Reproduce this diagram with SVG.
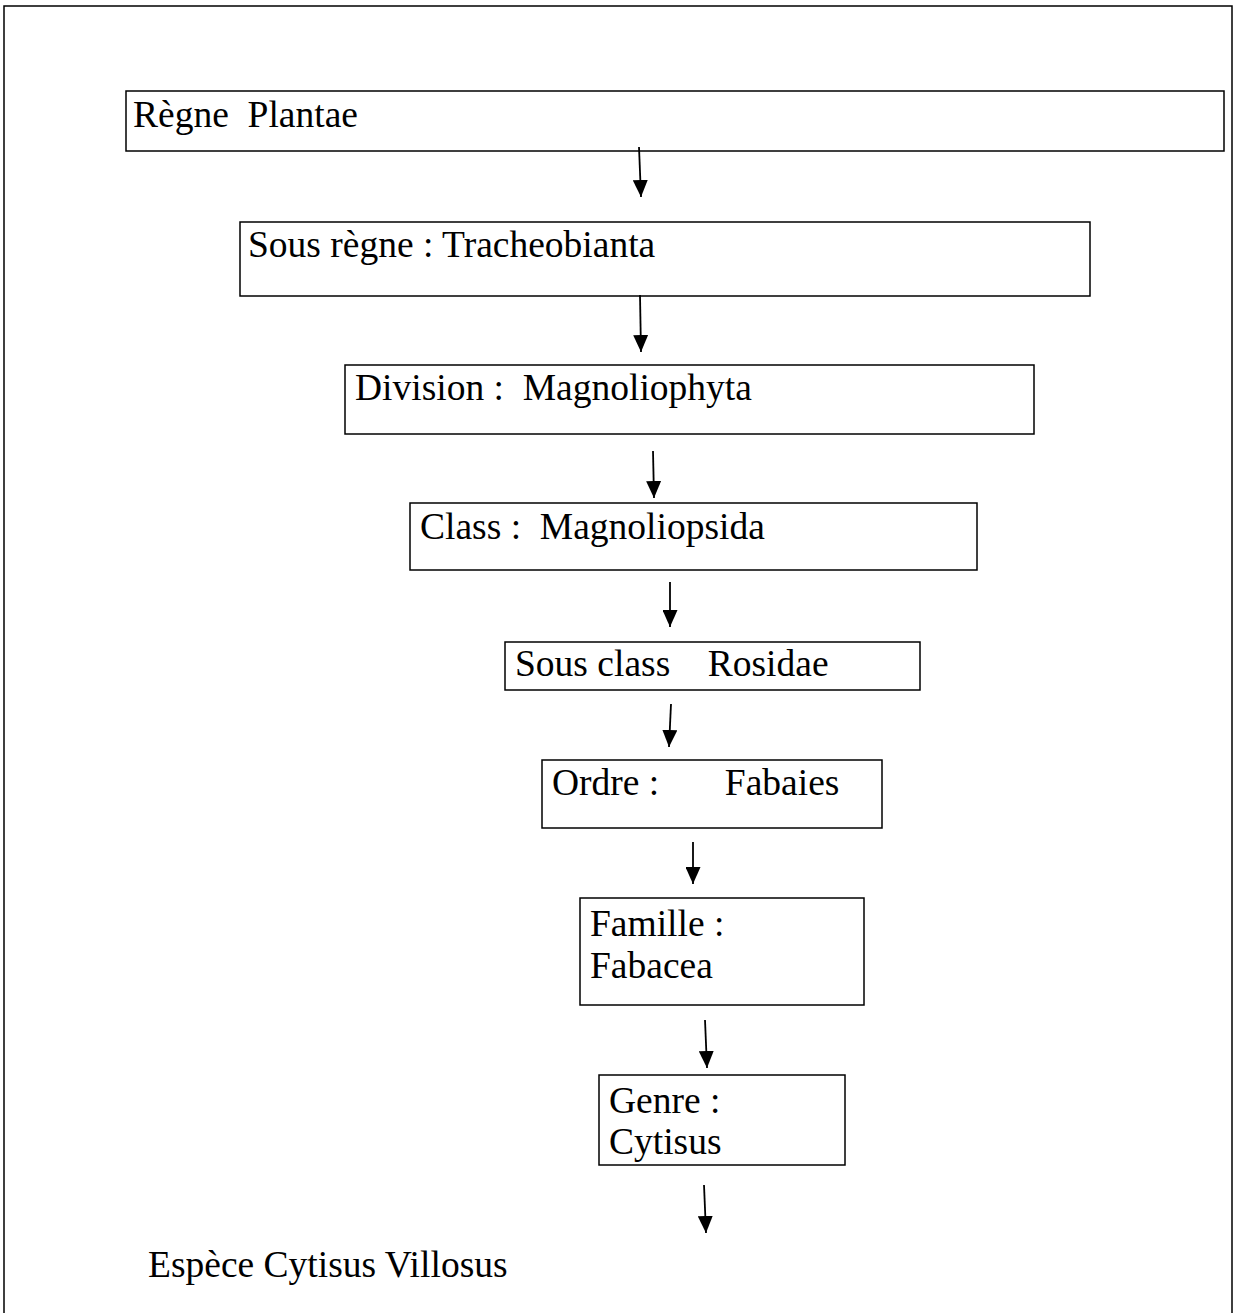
<svg xmlns="http://www.w3.org/2000/svg" width="1234" height="1313" viewBox="0 0 1234 1313">
<defs>
<style>
.box{fill:#fff;stroke:#000;stroke-width:1.5}
.lbl{font-family:"Liberation Serif","Times New Roman",serif;font-size:37.5px;fill:#000;white-space:pre}
.arr{stroke:#000;stroke-width:1.8;fill:none;marker-end:url(#ah)}
</style>
<marker id="ah" markerUnits="userSpaceOnUse" viewBox="0 0 17 15" refX="17" refY="7.5" markerWidth="17" markerHeight="15" orient="auto">
<path d="M0,0 L17,7.5 L0,15 Z" fill="#000"/>
</marker>
</defs>
<rect width="1234" height="1313" fill="#fff"/>
<path d="M4,1313 V6 H1232 V1313" fill="none" stroke="#000" stroke-width="1.5"/>
<g id="n1"><rect class="box" x="126" y="91" width="1098" height="60"/><text class="lbl" x="133" y="127" xml:space="preserve">Règne  Plantae</text></g>
<g id="n2"><rect class="box" x="240" y="222" width="850" height="74"/><text class="lbl" x="248" y="257">Sous règne : Tracheobianta</text></g>
<g id="n3"><rect class="box" x="345" y="365" width="689" height="69"/><text class="lbl" x="355" y="400" xml:space="preserve">Division :  Magnoliophyta</text></g>
<g id="n4"><rect class="box" x="410" y="503" width="567" height="67"/><text class="lbl" x="420" y="539" xml:space="preserve">Class :  Magnoliopsida</text></g>
<g id="n5"><rect class="box" x="505" y="642" width="415" height="48"/><text class="lbl" x="515" y="676" xml:space="preserve">Sous class    Rosidae</text></g>
<g id="n6"><rect class="box" x="542" y="760" width="340" height="68"/><text class="lbl" x="552" y="795" xml:space="preserve">Ordre :       Fabaies</text></g>
<g id="n7"><rect class="box" x="580" y="898" width="284" height="107"/><text class="lbl" x="590" y="936">Famille :</text><text class="lbl" x="590" y="978">Fabacea</text></g>
<g id="n8"><rect class="box" x="599" y="1075" width="246" height="90"/><text class="lbl" x="609" y="1113">Genre :</text><text class="lbl" x="609" y="1154">Cytisus</text></g>
<g id="n9"><text class="lbl" x="148" y="1277">Espèce Cytisus Villosus</text></g>
<g id="connectors">
<line class="arr" x1="639" y1="147" x2="641" y2="197"/>
<line class="arr" x1="640" y1="295" x2="641" y2="352"/>
<line class="arr" x1="653" y1="451" x2="654" y2="498"/>
<line class="arr" x1="670" y1="582" x2="670" y2="627"/>
<line class="arr" x1="671" y1="704" x2="669" y2="747"/>
<line class="arr" x1="693" y1="842" x2="693" y2="884"/>
<line class="arr" x1="705" y1="1020" x2="707" y2="1068"/>
<line class="arr" x1="704" y1="1185" x2="706" y2="1233"/>
</g>
</svg>
